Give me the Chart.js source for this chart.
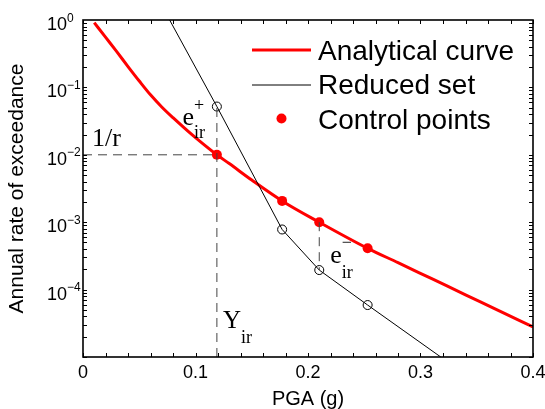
<!DOCTYPE html>
<html>
<head>
<meta charset="utf-8">
<script src="https://cdn.jsdelivr.net/npm/chart.js@4/dist/chart.umd.min.js"></script>
<style>
  body { margin: 0; background: #fff; }
</style>
</head>
<body>
<canvas id="hazard" width="545" height="409"></canvas>
<script>
const SANS = 'Liberation Sans';
const SERIF = 'Liberation Serif';

// analytical hazard curve
const curveX = [0.01, 0.02, 0.03, 0.04, 0.05, 0.06, 0.07, 0.08, 0.09, 0.10, 0.119, 0.13, 0.15, 0.177, 0.21, 0.253, 0.28, 0.31, 0.34, 0.37, 0.40];
const curveY = [0.912, 0.556, 0.339, 0.204, 0.1245, 0.0776, 0.0513, 0.0355, 0.0251, 0.018, 0.01, 0.00741, 0.00422, 0.00207, 0.001, 4.1e-4, 2.51e-4, 1.45e-4, 8.38e-5, 4.84e-5, 2.8e-5];

// control points on the analytical curve
const ctrlX = [0.119, 0.177, 0.21, 0.253];
const ctrlY = [0.01, 0.00207, 0.001, 4.1e-4];

// reduced set; first and last entries are where the line leaves the axes
const reducedX = [0.077, 0.119, 0.177, 0.21, 0.253, 0.318];
const reducedY = [1, 0.052, 7.8e-4, 1.95e-4, 5.9e-5, 1e-5];

const xTicks = [0, 0.1, 0.2, 0.3, 0.4];
const yDecades = [0, -1, -2, -3, -4];

const Yir = ctrlX[0];
const rInv = ctrlY[0];
const TICK = 4;

const pts = (xs, ys) => xs.map((x, i) => ({ x, y: ys[i] }));
const guide = { borderColor: '#444', borderWidth: 1, borderDash: [9, 6], pointRadius: 0, fill: false };

function scriptText(ctx, base, sub, sup, x, y, size, subDy, supDy) {
  ctx.font = size + 'px "' + SERIF + '"';
  ctx.fillText(base, x, y);
  const w = ctx.measureText(base).width;
  ctx.font = '18px "' + SERIF + '"';
  if (sup) ctx.fillText(sup, x + w, y + supDy);
  if (sub) ctx.fillText(sub, x + w, y + subDy);
}

// matlab-ish box: inward ticks on all four sides, decade labels, legend, notes
const axesBox = {
  id: 'axesBox',
  afterDraw(chart) {
    const { ctx, chartArea: a, scales: { x, y } } = chart;
    ctx.save();
    ctx.strokeStyle = '#000';
    ctx.lineWidth = 1;
    ctx.beginPath();
    for (let i = 0; i <= 20; i++) {
      const px = Math.round(x.getPixelForValue(i * 0.02)) + 0.5;
      ctx.moveTo(px, a.bottom); ctx.lineTo(px, a.bottom - TICK);
      ctx.moveTo(px, a.top); ctx.lineTo(px, a.top + TICK);
    }
    for (let d = -5; d < 0; d++) {
      for (let k = 1; k < 10; k++) {
        const py = Math.round(y.getPixelForValue(k * Math.pow(10, d))) + 0.5;
        ctx.moveTo(a.left, py); ctx.lineTo(a.left + TICK, py);
        ctx.moveTo(a.right, py); ctx.lineTo(a.right - TICK, py);
      }
    }
    ctx.stroke();
    ctx.lineWidth = 1.6;
    ctx.strokeRect(a.left, a.top, a.right - a.left, a.bottom - a.top);

    // y decade labels 10^n
    ctx.fillStyle = '#000';
    ctx.textBaseline = 'alphabetic';
    yDecades.forEach(d => {
      const py = y.getPixelForValue(Math.pow(10, d));
      ctx.font = '18px "' + SANS + '"';
      ctx.textAlign = 'right';
      ctx.fillText('10', a.left - 16, py + 10);
      ctx.font = '12px "' + SANS + '"';
      ctx.textAlign = 'left';
      ctx.fillText(d === 0 ? '0' : '\u2212' + (-d), a.left - 16, py + 1.5);
    });

    // legend
    const lx = a.left + 169, tx = a.left + 235;
    ctx.lineWidth = 3; ctx.strokeStyle = '#f00';
    ctx.beginPath(); ctx.moveTo(lx, a.top + 30); ctx.lineTo(lx + 59, a.top + 30); ctx.stroke();
    ctx.lineWidth = 1; ctx.strokeStyle = '#000';
    ctx.beginPath(); ctx.moveTo(lx, a.top + 65); ctx.lineTo(lx + 59, a.top + 65); ctx.stroke();
    ctx.fillStyle = '#f00';
    ctx.beginPath(); ctx.arc(lx + 29.5, a.top + 98.5, 5, 0, Math.PI * 2); ctx.fill();
    ctx.fillStyle = '#000';
    ctx.font = '28px "' + SANS + '"';
    ctx.textAlign = 'left';
    ['Analytical curve', 'Reduced set', 'Control points'].forEach((t, i) => {
      ctx.fillText(t, tx, a.top + 39.5 + i * 34.5);
    });

    // annotations
    const xr = x.getPixelForValue(Yir);
    ctx.font = '26px "' + SERIF + '"';
    ctx.fillText('1/r', a.left + 9, y.getPixelForValue(rInv) - 9);
    scriptText(ctx, 'e', 'ir', '+', xr - 34.5, y.getPixelForValue(rInv) - 30, 26, 13.3, -14.2);
    scriptText(ctx, 'e', 'ir', '\u2212', x.getPixelForValue(ctrlX[2]) + 11, y.getPixelForValue(ctrlY[2]) + 41, 26, 15, -15.5);
    scriptText(ctx, 'Y', 'ir', null, xr + 6, a.bottom - 29, 25, 14.7, 0);
    ctx.restore();
  }
};

Chart.defaults.font.family = SANS;
Chart.defaults.color = '#000';

new Chart(document.getElementById('hazard').getContext('2d'), {
  type: 'line',
  data: {
    datasets: [
      { ...guide, label: '1/r', data: [{ x: 0, y: rInv }, { x: Yir, y: rInv }] },
      { ...guide, label: 'Yir', data: [{ x: Yir, y: 1e-5 }, { x: Yir, y: reducedY[1] }] },
      { ...guide, label: 'e-', data: [{ x: ctrlX[2], y: ctrlY[2] }, { x: ctrlX[2], y: reducedY[3] }] },
      { label: 'Control points', data: pts(ctrlX, ctrlY), showLine: false, pointRadius: 5,
        pointBackgroundColor: '#f00', pointBorderColor: '#f00', pointBorderWidth: 0 },
      { label: 'Reduced set', data: pts(reducedX, reducedY), borderColor: '#000', borderWidth: 1,
        pointRadius: reducedX.map((_, i) => (i === 0 || i === reducedX.length - 1) ? 0 : 4.5),
        pointBackgroundColor: 'rgba(0,0,0,0)', pointBorderColor: '#000', pointBorderWidth: 1 },
      { label: 'Analytical curve', data: pts(curveX, curveY), borderColor: '#f00', borderWidth: 3,
        pointRadius: 0, cubicInterpolationMode: 'monotone' }
    ]
  },
  options: {
    responsive: false,
    animation: false,
    events: [],
    layout: { padding: { top: 20, right: 12, left: 0, bottom: 0 } },
    plugins: { legend: { display: false }, tooltip: { enabled: false } },
    scales: {
      x: {
        type: 'linear', min: 0, max: 0.4,
        grid: { display: false, drawTicks: false },
        border: { display: false },
        afterBuildTicks: s => { s.ticks = xTicks.map(v => ({ value: v })); },
        ticks: { padding: 5, maxRotation: 0, font: { size: 18 }, callback: v => String(+v.toFixed(1)) },
        title: { display: true, text: 'PGA (g)', font: { size: 20, lineHeight: 1 }, padding: 0 },
        afterFit: s => { s.height = 52; s.paddingLeft = 0; s.paddingRight = 0; }
      },
      y: {
        type: 'logarithmic', min: 1e-5, max: 1,
        grid: { display: false, drawTicks: false },
        border: { display: false },
        ticks: { display: false },
        title: { display: true, text: 'Annual rate of exceedance', font: { size: 21 }, padding: 5 },
        afterFit: s => { s.width = 83; s.paddingTop = 0; s.paddingBottom = 0; }
      }
    }
  },
  plugins: [axesBox]
});
</script>
</body>
</html>
